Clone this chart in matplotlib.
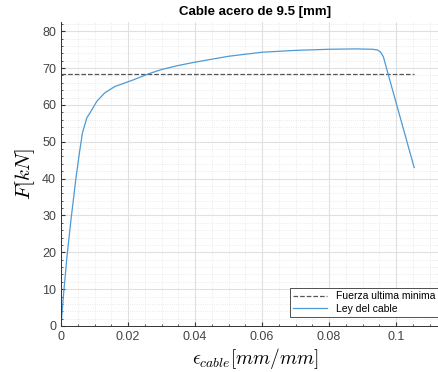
import numpy as np
import matplotlib
matplotlib.use("Agg")
import matplotlib.pyplot as plt
from matplotlib.ticker import MultipleLocator

plt.rcParams['font.family'] = ['Liberation Sans', 'DejaVu Sans']
plt.rcParams['mathtext.fontset'] = 'cm'

# curva del cable
deform = [0, 0.0008, 0.0018, 0.0030, 0.0037, 0.0044, 0.0055, 0.0064, 0.0077,
          0.0087, 0.0107, 0.0131, 0.0161, 0.0216, 0.026, 0.03, 0.035, 0.04,
          0.05, 0.06, 0.07, 0.08, 0.088, 0.093, 0.0945, 0.0953, 0.0962,
          0.0975, 0.1054]
fuerza = [0, 9, 19, 29, 34.3, 39.7, 47.0, 52.4, 56.5,
          57.9, 61.0, 63.3, 65.0, 66.8, 68.4, 69.6, 70.7, 71.6,
          73.2, 74.3, 74.8, 75.1, 75.2, 75.1, 74.9, 74.4, 73.1,
          68.8, 43.0]
f_min = 68.5

fig = plt.figure(figsize=(4.38, 3.72), dpi=100)
# el eje sigue un poco mas alla del borde derecho (como en la figura original)
ax = fig.add_axes([61/438, 1-326/372, (449-61)/438, (326-22)/372])

ax.plot([0, deform[-1]], [f_min, f_min], '--', color='#555555', lw=0.9,
        label='Fuerza ultima minima')
ax.plot(deform, fuerza, color='#4d9ad6', lw=0.9, label='Ley del cable')

ax.set_xlim(0, 0.1158)
ax.set_ylim(0, 82.5)
ax.xaxis.set_major_locator(MultipleLocator(0.02))
ax.xaxis.set_minor_locator(MultipleLocator(0.005))
ax.yaxis.set_major_locator(MultipleLocator(10))
ax.yaxis.set_minor_locator(MultipleLocator(2))
ax.set_xticks([0, 0.02, 0.04, 0.06, 0.08, 0.1])
ax.set_xticklabels(['0', '0.02', '0.04', '0.06', '0.08', '0.1'])

ax.grid(which='major', color='#e0e0e0', lw=0.8)
ax.grid(which='minor', color='#e4e4e4', lw=0.6, ls=':')
ax.set_axisbelow(True)
for s in ['top', 'right']:
    ax.spines[s].set_visible(False)
for s in ['left', 'bottom']:
    ax.spines[s].set_color('#333333')
    ax.spines[s].set_linewidth(0.7)
ax.tick_params(which='both', direction='in', labelsize=9, colors='#333333',
               labelcolor='#444444')
ax.tick_params(which='major', length=3)
ax.tick_params(which='minor', length=1.5)

ax.set_title('Cable acero de 9.5 [mm]', fontsize=9.5, fontweight='bold', pad=5)
ax.set_xlabel(r'$\epsilon_{cable}[mm/mm]$', fontsize=14, labelpad=2)
ax.set_ylabel(r'$F[kN]$', fontsize=15, labelpad=4)

leg = ax.legend(loc='lower right', fontsize=7.5, fancybox=False,
                framealpha=1, edgecolor='#333333', borderpad=0.3,
                handlelength=3.3, borderaxespad=0, labelspacing=0.25,
                bbox_to_anchor=(1.0, 55/372), bbox_transform=fig.transFigure)
leg.get_frame().set_linewidth(0.6)

fig.savefig('out.png', dpi=100)
